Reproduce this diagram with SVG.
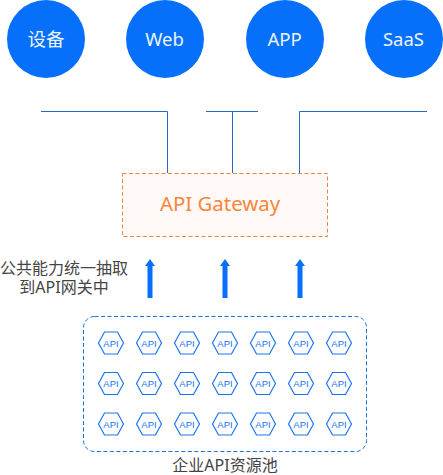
<svg xmlns="http://www.w3.org/2000/svg" xmlns:xlink="http://www.w3.org/1999/xlink" width="443" height="475" viewBox="0 0 443 475">
<style>
text{font-family:"Noto Sans","Noto Sans CJK SC",sans-serif;text-anchor:middle}
.c{fill:#0670fb}
.cl{fill:#eaf3ff;font-size:18.500px}
.ln{fill:none;stroke:#2a68c8;stroke-width:1}
.up{fill:#0670fb}
.hex{fill:#fff;stroke:#1a74f0;stroke-width:1.200}
.ht{fill:#1a74f0;font-size:9.500px;font-family:"Liberation Sans",sans-serif}
.lb{fill:#444;font-size:16px}
</style>
<defs>
<g id="api"><polygon class="hex" points="-12.500,0 -6.500,-11 6.500,-11 12.500,0 6.500,11 -6.500,11"/><text class="ht" y="3.500">API</text></g>
<path id="arrow" class="up" d="M-2.500,39V7H-5L0,0L5,7H2.500V39Z"/>
</defs>
<g id="node-device"><circle class="c" cx="46" cy="39" r="39"/><text class="cl" x="46" y="46">设备</text></g>
<g id="node-web"><circle class="c" cx="165" cy="39" r="39"/><text class="cl" x="164.500" y="45.500">Web</text></g>
<g id="node-app"><circle class="c" cx="285" cy="39" r="39"/><text class="cl" x="284.500" y="45.500">APP</text></g>
<g id="node-saas"><circle class="c" cx="404" cy="39" r="39"/><text class="cl" x="403.500" y="45.500">SaaS</text></g>
<g id="connectors">
<polyline class="ln" points="41,111.500 167.500,111.500 167.500,173"/>
<line class="ln" x1="206" y1="111.500" x2="258" y2="111.500"/>
<line class="ln" x1="232.500" y1="111.500" x2="232.500" y2="173"/>
<polyline class="ln" points="427,111.500 299.500,111.500 299.500,173"/>
<use xlink:href="#arrow" href="#arrow" x="150" y="259"/>
<use xlink:href="#arrow" href="#arrow" x="225" y="259"/>
<use xlink:href="#arrow" href="#arrow" x="300" y="259"/>
</g>
<g id="node-gateway"><rect x="122.500" y="173.500" width="205" height="63" fill="#fef9f6" stroke="#f0843c" stroke-dasharray="4 2.500"/><text x="220" y="211" font-size="20.400" fill="#f5863c">API Gateway</text></g>
<g id="label-extract"><text class="lb" x="64" y="273.500">公共能力统一抽取</text><text class="lb" x="64" y="293">到API网关中</text></g>
<g id="node-pool"><rect x="83.500" y="316.500" width="283" height="135" rx="11" fill="#fff" stroke="#1a6fe0" stroke-dasharray="4 2.500"/>
<use href="#api" x="111" y="343"/><use href="#api" x="149" y="343"/><use href="#api" x="187" y="343"/><use href="#api" x="225" y="343"/><use href="#api" x="263" y="343"/><use href="#api" x="301" y="343"/><use href="#api" x="339" y="343"/>
<use href="#api" x="111" y="383.500"/><use href="#api" x="149" y="383.500"/><use href="#api" x="187" y="383.500"/><use href="#api" x="225" y="383.500"/><use href="#api" x="263" y="383.500"/><use href="#api" x="301" y="383.500"/><use href="#api" x="339" y="383.500"/>
<use href="#api" x="111" y="424"/><use href="#api" x="149" y="424"/><use href="#api" x="187" y="424"/><use href="#api" x="225" y="424"/><use href="#api" x="263" y="424"/><use href="#api" x="301" y="424"/><use href="#api" x="339" y="424"/>
</g>
<g id="label-pool"><text class="lb" x="225" y="471">企业API资源池</text></g>
</svg>
